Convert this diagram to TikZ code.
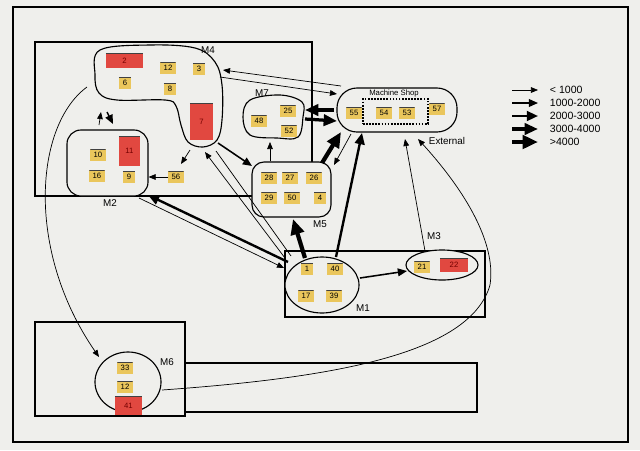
\documentclass[tikz,border=0pt]{standalone}
\usepackage{fontspec}
\setmainfont{Liberation Sans}
\usepackage{tikz}
\usetikzlibrary{positioning,arrows.meta,shapes.geometric}
\definecolor{paper}{RGB}{239,239,236}
\definecolor{cellgold}{RGB}{234,198,92}
\definecolor{hotred}{RGB}{225,72,64}

\begin{document}
\begin{tikzpicture}[
  x=0.025cm, y=-0.025cm,
  zone/.style={draw, line width=0.8pt, fill=paper},
  cell/.style={fill=cellgold, minimum width=0.38cm, minimum height=0.28cm, inner sep=0pt,
    font=\fontsize{5.5}{6}\selectfont,
    path picture={\draw[line width=0.7pt, black!75] (path picture bounding box.north west) -- (path picture bounding box.north east);}},
  slim/.style={cell, minimum width=0.3cm},
  hot/.style={cell, fill=hotred, text=red!45!black},
  lbl/.style={font=\fontsize{7}{8}\selectfont},
  key/.style={anchor=west, font=\fontsize{7.5}{8}\selectfont},
  flow1/.style={line width=0.5pt, -{Triangle[length=5pt, width=4pt]}},
  flow2/.style={line width=1.1pt, -{Triangle[length=6.5pt, width=5.5pt]}},
  flow3/.style={line width=1.7pt, -{Triangle[length=8pt, width=7pt]}},
  flow4/.style={line width=2.3pt, -{Triangle[length=9.5pt, width=8pt]}},
  flow5/.style={line width=3pt, -{Triangle[length=11pt, width=9.5pt]}},
]
\useasboundingbox[fill=paper] (0,0) rectangle (640,450);
\draw[line width=0.8pt] (13,7) rectangle (628,442);

% departments
\draw[line width=0.8pt] (35,42) rectangle (312,196);
\draw[line width=0.8pt] (285,251) rectangle (485,317);
\draw[line width=0.8pt] (35,322) rectangle (185,416);
\draw[line width=0.8pt] (185,363) rectangle (477,412);

% machine groups
\draw[zone] plot[smooth cycle, tension=0.6] coordinates {(100,50) (150,45) (195,48) (215,62) (222,85) (222,120) (217,140) (203,147) (188,142) (181,125) (176,106) (165,100) (117,100) (99,93) (95,75)};
\draw[zone] plot[smooth cycle, tension=0.6] coordinates {(250,100) (280,95) (302,102) (303,117) (298,137) (277,138) (250,135) (243,117)};
\node[zone, rounded corners=0.35cm, minimum width=2.025cm, minimum height=1.65cm] (m2) at (107.5,163) {};
\node[zone, rounded corners=0.3cm, minimum width=1.975cm, minimum height=1.375cm] (m5) at (291.5,189.5) {};
\node[zone, rounded corners=0.5cm, minimum width=3cm, minimum height=1.1cm] (shop) at (397,110) {};
\node[zone, ellipse, minimum width=1.85cm, minimum height=1.4cm] (m1) at (322,285) {};
\node[zone, ellipse, minimum width=1.8cm, minimum height=0.75cm] (m3) at (442,265) {};
\node[zone, ellipse, minimum width=1.65cm, minimum height=1.5cm] (m6) at (128,382) {};
\node[draw, densely dotted, line width=1.2pt, minimum width=1.625cm, minimum height=0.625cm] (inhouse) at (395.5,111.5) {};

% group labels
\node[lbl] (m4lbl) at (208,50) {M4};
\node[lbl] (m2lbl) at (110,203) {M2};
\node[lbl] (m7lbl) at (262,93) {M7};
\node[lbl] (m5lbl) at (320,224) {M5};
\node[lbl] (m1lbl) at (363,308) {M1};
\node[lbl] (m3lbl) at (434,236) {M3};
\node[lbl] (m6lbl) at (167,362) {M6};
\node[font=\fontsize{5.5}{6}\selectfont] (shoplbl) at (394,93) {Machine Shop};
\node[lbl, anchor=west] (extlbl) at (424,141) {External};

% machines
\node[hot, minimum width=0.925cm, minimum height=0.375cm] (c2) at (124.5,60.5) {2};
\node[cell] (c12a) at (168,68) {12};
\node[slim] (c3) at (199,69) {3};
\node[slim] (c6) at (125,83) {6};
\node[slim] (c8) at (170,89) {8};
\node[hot, minimum width=0.575cm, minimum height=0.925cm] (c7) at (201.5,121.5) {7};
\node[cell] (c10) at (98,155) {10};
\node[hot, minimum width=0.525cm, minimum height=0.75cm] (c11) at (129.5,151) {11};
\node[cell] (c16) at (97,176) {16};
\node[slim] (c9) at (129,177) {9};
\node[cell] (c56) at (176,177) {56};
\node[cell] (c48) at (259,121) {48};
\node[cell] (c25) at (288,111) {25};
\node[cell] (c52) at (289,131) {52};
\node[cell] (c28) at (269,178) {28};
\node[cell] (c27) at (290,178) {27};
\node[cell] (c26) at (314,178) {26};
\node[cell] (c29) at (269,198) {29};
\node[cell] (c50) at (292,198) {50};
\node[slim] (c4) at (320,198) {4};
\node[cell] (c55) at (354,113) {55};
\node[cell] (c54) at (384,113) {54};
\node[cell] (c53) at (407,113) {53};
\node[cell] (c57) at (437,109) {57};
\node[slim] (c1) at (307,269) {1};
\node[cell] (c40) at (335,269) {40};
\node[cell] (c17) at (306,296) {17};
\node[cell] (c39) at (334,296) {39};
\node[cell] (c21) at (422,267) {21};
\node[hot, minimum width=0.7cm, minimum height=0.35cm] (c22) at (454,265) {22};
\node[cell] (c33) at (125,368) {33};
\node[cell] (c12b) at (125,387) {12};
\node[hot, minimum width=0.675cm, minimum height=0.475cm] (c41) at (128.5,405.5) {41};

% attachment points
\coordinate (m4-e1) at (223,70);
\coordinate (m4-e2) at (220,77);
\coordinate (m4-se) at (218,143);
\coordinate (m4-b) at (190,150);
\coordinate (m4-b2) at (205,152);
\coordinate (m4-b3) at (216,151);
\coordinate (m4-sw) at (87,87);
\coordinate (m4-d1) at (107,112);
\coordinate (m4-d2) at (101,112);
\coordinate (m2-u1) at (99,125);
\coordinate (m2-u2) at (113,124);
\coordinate (m2-se) at (148,195);
\coordinate (m2-s) at (139,198);
\coordinate (m7-e1) at (305,110);
\coordinate (m7-e2) at (305,119);
\coordinate (m7-s) at (270,142);
\coordinate (m5-n) at (270,161);
\coordinate (m5-nw) at (252,166);
\coordinate (m5-ne) at (322,163);
\coordinate (m5-ne2) at (334,165);
\coordinate (m5-s) at (293,219);
\coordinate (shop-n) at (341,86);
\coordinate (shop-w1) at (337,94);
\coordinate (shop-w2) at (334,110);
\coordinate (shop-w3) at (337,121);
\coordinate (shop-s1) at (341,132);
\coordinate (shop-s2) at (351,134);
\coordinate (shop-s3) at (362,133);
\coordinate (m1-t1) at (305,258);
\coordinate (m1-t2) at (336,257);
\coordinate (m1-tl1) at (288,262);
\coordinate (m1-tl2) at (284,268);
\coordinate (m1-tl3) at (285,258);
\coordinate (m1-tl4) at (291,256);
\coordinate (m1-e) at (360,278);
\coordinate (m3-w) at (407,271);
\coordinate (m3-n) at (425,251);
\coordinate (c56-n) at (181,164);
\coordinate (m6-n) at (99,357);
\coordinate (m6-e) at (162,390);
\coordinate (ext-a) at (405,139);
\coordinate (ext-b) at (418,139);

% flows
\draw[flow1] (shop-n) -- (m4-e1);
\draw[flow1] (m4-e2) -- (shop-w1);
\draw[flow4] (shop-w2) -- (m7-e1);
\draw[flow4] (m7-e2) -- (shop-w3);
\draw[flow5] (m5-ne) -- (shop-s1);
\draw[flow1] (shop-s2) -- (m5-ne2);
\draw[flow3] (m1-t2) -- (shop-s3);
\draw[flow5] (m1-t1) -- (m5-s);
\draw[flow2] (m1-e) -- (m3-w);
\draw[flow2] (m4-se) -- (m5-nw);
\draw[flow1] (m5-n) -- (m7-s);
\draw[flow1] (m4-b) -- (c56-n);
\draw[flow1] (c56.west) -- (m2.east |- c56.west);
\draw[flow1] (m2-u1) -- (m4-d2);
\draw[flow2] (m4-d1) -- (m2-u2);
\draw[flow3] (m1-tl1) -- (m2-se);
\draw[flow1] (m2-s) -- (m1-tl2);
\draw[flow1] (m1-tl3) -- (m4-b2);
\draw[line width=0.5pt] (m4-b3) -- (m1-tl4);
\draw[flow1] (m3-n) -- (ext-a);
\draw[flow1] (m4-sw) .. controls (35,125) and (25,250) .. (m6-n);
\draw[flow1] (m6-e) .. controls (330,378) and (470,355) .. (490,285) .. controls (497,240) and (460,185) .. (ext-b);

% legend
\draw[flow1] (512,90) coordinate (k1) -- (538,90) coordinate (k1e);
\draw[flow2] (512,103) coordinate (k2) -- (538,103) coordinate (k2e);
\draw[flow3] (512,116) coordinate (k3) -- (538,116) coordinate (k3e);
\draw[flow4] (512,129) coordinate (k4) -- (538,129) coordinate (k4e);
\draw[flow5] (512,142) coordinate (k5) -- (538,142) coordinate (k5e);
\node[key] (l1) at (545,90) {< 1000};
\node[key] (l2) at (545,103) {1000-2000};
\node[key] (l3) at (545,116) {2000-3000};
\node[key] (l4) at (545,129) {3000-4000};
\node[key] (l5) at (545,142) {>4000};
\end{tikzpicture}
\end{document}
